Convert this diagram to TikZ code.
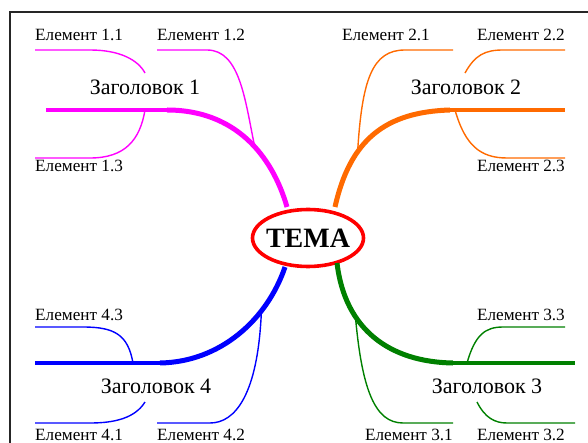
\documentclass[tikz,border=0pt]{standalone}
\usepackage{fontspec}
\setmainfont{Liberation Serif}
\definecolor{mag}{HTML}{FF00FF}
\definecolor{org}{HTML}{FF6A00}
\definecolor{grn}{HTML}{008000}
\definecolor{blu}{HTML}{0000FF}
\definecolor{tred}{HTML}{FF0000}
\begin{document}
\begin{tikzpicture}[x=1pt,y=-1pt,
  elem/.style={inner sep=0pt,font=\fontsize{17.2}{17}\selectfont},
  head/.style={inner sep=0pt,font=\fontsize{22}{22}\selectfont},
  trunk/.style={line width=5pt},
  stem/.style={line width=4pt},
  twig/.style={line width=1.4pt}]
\useasboundingbox (0,0) rectangle (588,443);
% frame
\draw[line width=2.6pt,black!85] (10,460) -- (10,12) -- (600,12);
% centre
\node[inner sep=0pt,font=\fontsize{28}{28}\selectfont\bfseries] (tema) at (308,238) {ТЕМА};
\draw[tred,line width=3.6pt] (tema.center) ellipse [x radius=55.5, y radius=28.5];
% ---------------- branch 1
\coordinate (r1) at (287,207);
\coordinate (k1) at (167,110);
\coordinate (e1) at (46,110);
\coordinate (b11) at (145,73);
\coordinate (b13) at (145,110);
\coordinate (p11) at (90,50); \coordinate (q11) at (35,50);
\coordinate (p12) at (207,50); \coordinate (q12) at (157,50);
\coordinate (p13) at (90,158); \coordinate (q13) at (35,158);
\draw[mag,trunk] (r1) .. controls (272,155) and (235,110) .. (k1) coordinate[pos=0.43] (b12);
\draw[mag,stem] (k1) -- (e1);
\draw[mag,twig] (b11) .. controls (138,60) and (120,50) .. (p11) -- (q11);
\draw[mag,twig] (b12) .. controls (245,100) and (240,50) .. (p12) -- (q12);
\draw[mag,twig] (b13) .. controls (140,140) and (125,158) .. (p13) -- (q13);
\node[head,anchor=base] (h1) at (145,95) {Заголовок 1};
\node[elem,anchor=base west] (t11) at (35,41) {Елемент 1.1};
\node[elem,anchor=base west] (t12) at (157,41) {Елемент 1.2};
\node[elem,anchor=base west] (t13) at (35,172) {Елемент 1.3};
% ---------------- branch 2
\coordinate (r2) at (335,207);
\coordinate (k2) at (450,110);
\coordinate (e2) at (565,110);
\coordinate (b22) at (465,73);
\coordinate (b23) at (455,110);
\coordinate (p21) at (405,50); \coordinate (q21) at (453,50);
\coordinate (p22) at (503,50); \coordinate (q22) at (565,50);
\coordinate (p23) at (507,158); \coordinate (q23) at (565,158);
\draw[org,trunk] (r2) .. controls (350,140) and (385,112) .. (k2) coordinate[pos=0.34] (b21);
\draw[org,stem] (k2) -- (e2);
\draw[org,twig] (b21) .. controls (362,80) and (372,50) .. (p21) -- (q21);
\draw[org,twig] (b22) .. controls (475,55) and (485,50) .. (p22) -- (q22);
\draw[org,twig] (b23) .. controls (465,145) and (480,158) .. (p23) -- (q23);
\node[head,anchor=base] (h2) at (466,95) {Заголовок 2};
\node[elem,anchor=base east] (t21) at (430,41) {Елемент 2.1};
\node[elem,anchor=base east] (t22) at (565,41) {Елемент 2.2};
\node[elem,anchor=base east] (t23) at (565,172) {Елемент 2.3};
% ---------------- branch 3
\coordinate (r3) at (337,263);
\coordinate (k3) at (453,363);
\coordinate (e3) at (575,363);
\coordinate (b33) at (467,363);
\coordinate (b32) at (477,402);
\coordinate (p31) at (403,423); \coordinate (q31) at (453,423);
\coordinate (p33) at (503,327); \coordinate (q33) at (565,327);
\coordinate (p32) at (507,423); \coordinate (q32) at (575,423);
\draw[grn,trunk] (r3) .. controls (345,330) and (390,362) .. (k3) coordinate[pos=0.32] (b31);
\draw[grn,stem] (k3) -- (e3);
\draw[grn,twig] (b31) .. controls (362,390) and (375,423) .. (p31) -- (q31);
\draw[grn,twig] (b33) .. controls (475,335) and (485,327) .. (p33) -- (q33);
\draw[grn,twig] (b32) .. controls (485,418) and (495,423) .. (p32) -- (q32);
\node[head,anchor=base] (h3) at (487,393) {Заголовок 3};
\node[elem,anchor=base east] (t31) at (453,440) {Елемент 3.1};
\node[elem,anchor=base east] (t32) at (565,440) {Елемент 3.2};
\node[elem,anchor=base east] (t33) at (565,320) {Елемент 3.3};
% ---------------- branch 4
\coordinate (r4) at (285,267);
\coordinate (k4) at (160,363);
\coordinate (e4) at (35,363);
\coordinate (b43) at (133,363);
\coordinate (b41) at (145,402);
\coordinate (p43) at (83,327); \coordinate (q43) at (35,327);
\coordinate (p41) at (90,423); \coordinate (q41) at (35,423);
\coordinate (p42) at (210,423); \coordinate (q42) at (157,423);
\draw[blu,trunk] (r4) .. controls (267,320) and (220,362) .. (k4) coordinate[pos=0.3] (b42);
\draw[blu,stem] (k4) -- (e4);
\draw[blu,twig] (b43) .. controls (128,335) and (115,327) .. (p43) -- (q43);
\draw[blu,twig] (b41) .. controls (135,418) and (115,423) .. (p41) -- (q41);
\draw[blu,twig] (b42) .. controls (258,395) and (235,423) .. (p42) -- (q42);
\node[head,anchor=base] (h4) at (156,393) {Заголовок 4};
\node[elem,anchor=base west] (t41) at (35,440) {Елемент 4.1};
\node[elem,anchor=base west] (t42) at (157,440) {Елемент 4.2};
\node[elem,anchor=base west] (t43) at (35,320) {Елемент 4.3};
\end{tikzpicture}
\end{document}
